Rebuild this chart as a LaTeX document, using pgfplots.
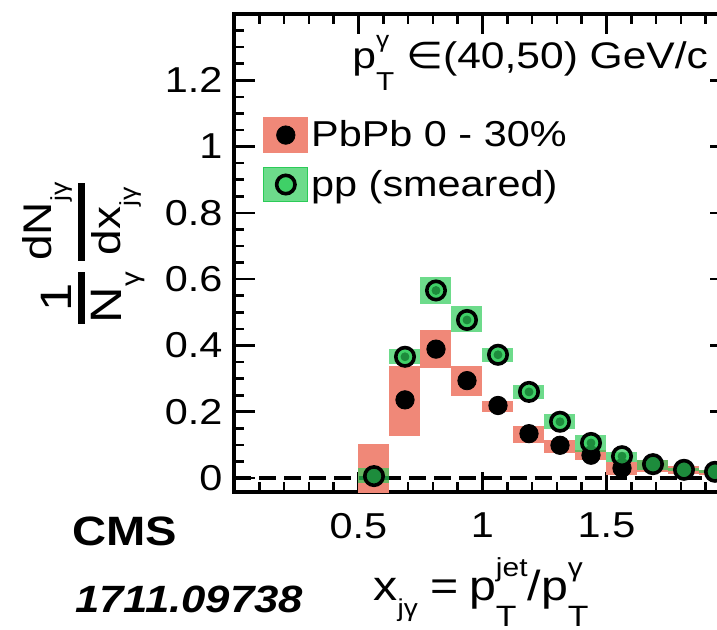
\documentclass[border=0pt]{standalone}
\usepackage{amsmath}
\usepackage{graphicx}
\usepackage{fontspec}
\setmainfont{Liberation Sans}[FakeStretch=1.15]
\newfontfamily\dejavu{DejaVu Sans}[FakeStretch=1.15]
\usepackage{pgfplots}
\usepackage{pgfplotstable}
\pgfplotsset{compat=1.18}
\definecolor{pbred}{RGB}{240,136,120}
\definecolor{ppgreen}{RGB}{43,203,87}
\newcommand{\Sub}[1]{\raisebox{-0.62em}{\scalebox{0.7}{#1}}}
\newcommand{\Sup}[1]{\raisebox{0.55em}{\scalebox{0.62}{#1}}}
\newcommand{\SubS}[1]{\raisebox{-0.4em}{\scalebox{0.58}{#1}}}

\pgfplotstableread{
x y lo hi
0.5625 0.005 -0.09 0.103
0.6875 0.236 0.128 0.338
0.8125 0.389 0.331 0.447
0.9375 0.294 0.249 0.338
1.0625 0.219 0.200 0.233
1.1875 0.134 0.107 0.157
1.3125 0.099 0.076 0.115
1.4375 0.069 0.054 0.085
1.5625 0.030 0.009 0.048
1.6875 0.040 0.018 0.056
1.8125 0.025 0.012 0.035
1.9375 0.018 0.009 0.025
}\pbpb

\pgfplotstableread{
x y lo hi
0.5625 0.006 -0.014 0.031
0.6875 0.366 0.343 0.389
0.8125 0.566 0.525 0.606
0.9375 0.477 0.440 0.520
1.0625 0.372 0.351 0.392
1.1875 0.260 0.238 0.281
1.3125 0.170 0.147 0.193
1.4375 0.106 0.079 0.130
1.5625 0.066 0.048 0.079
1.6875 0.042 0.024 0.056
1.8125 0.025 0.021 0.031
1.9375 0.019 0.014 0.024
}\pp

\begin{document}
\begin{tikzpicture}
\useasboundingbox (-117.25pt,-68.5pt) rectangle (241.25pt,246pt);
\begin{axis}[
  at={(0,0)}, anchor=south west,
  scale only axis, width=248pt, height=239pt,
  xmin=0, xmax=2, ymin=-0.042, ymax=1.4,
  axis line style={line width=2pt},
  xtick={0.5,1,1.5}, ytick={0,0.2,0.4,0.6,0.8,1,1.2},
  minor xtick={0.1,0.2,0.3,0.4,0.6,0.7,0.8,0.9,1.1,1.2,1.3,1.4,1.6,1.7,1.8,1.9},
  minor ytick={0.05,0.1,0.15,0.25,0.3,0.35,0.45,0.5,0.55,0.65,0.7,0.75,0.85,0.9,0.95,1.05,1.1,1.15,1.25,1.3,1.35},
  tick align=inside,
  xtick pos=both, ytick pos=both,
  major tick length=10pt, minor tick length=5pt,
  every tick/.style={black, line width=1.3pt},
  ticklabel style={font=\fontsize{18}{18}\selectfont},
  xticklabel style={yshift=-7pt},
  yticklabel style={xshift=-2.5pt},
  /pgf/number format/assume math mode=true,
  xlabel={x\SubS{jγ}\hspace{0.3em}=\hspace{0.25em}p\rlap{\Sub{T}}\Sup{jet}/p\rlap{\Sup{γ}}\Sub{T}},
  xlabel style={at={(axis description cs:0.497,-0.226)}, anchor=base, font=\fontsize{21}{21}\selectfont, inner sep=0pt},
  ylabel={\fontsize{22}{22}\selectfont$\genfrac{}{}{3.2pt}{}{\mbox{1}}{\mbox{N\SubS{γ}}}\,\genfrac{}{}{3.2pt}{}{\mbox{\fontsize{20}{20}\selectfont dN\SubS{jγ}}}{\mbox{\fontsize{20}{20}\selectfont dx\SubS{jγ}}}$},
  ylabel style={at={(axis description cs:-0.305,0.5)}, anchor=center, inner sep=0pt},
  legend style={at={(axis description cs:0.0575,0.785)}, anchor=north west, draw=none, fill=none,
     font=\fontsize{18}{18}\selectfont, row sep=7pt, inner sep=0pt,
     nodes={inner sep=1.5pt}},
  legend cell align=left,
]
% red boxes (PbPb systematics)
\addplot[only marks, mark=none, forget plot,
  error bars/.cd, y dir=both, y explicit, error mark=none,
  error bar style={line width=15.5pt, draw=pbred, line cap=butt}]
  table[x=x, y=y, y error plus expr=\thisrow{hi}-\thisrow{y}, y error minus expr=\thisrow{y}-\thisrow{lo}] {\pbpb};
% dashed line
\addplot[black, line width=1.6pt, dash pattern=on 8.5pt off 4pt, forget plot] coordinates {(0,0) (2,0)};
% PbPb markers
\addplot[only marks, mark=*, mark size=4.6pt, black,
  legend image code/.code={\fill[pbred] (0pt,-8.75pt) rectangle (22pt,8.75pt); \fill[black] (11pt,0pt) circle (4.6pt);}]
  table[x=x, y=y] {\pbpb};
\addlegendentry{PbPb 0 - 30\%}
% green boxes (pp systematics)
\addplot[only marks, mark=none, forget plot,
  error bars/.cd, y dir=both, y explicit, error mark=none,
  error bar style={line width=15.5pt, draw=ppgreen, draw opacity=0.69, line cap=butt}]
  table[x=x, y=y, y error plus expr=\thisrow{hi}-\thisrow{y}, y error minus expr=\thisrow{y}-\thisrow{lo}] {\pp};
% pp markers
\addplot[only marks, mark=*, mark size=4.6pt,
  mark options={draw=black, line width=1.8pt, fill=ppgreen, fill opacity=0.69},
  legend image code/.code={\fill[ppgreen, fill opacity=0.69] (0pt,-8.5pt) rectangle (22pt,8.5pt); \draw[black, line width=1.8pt, fill=ppgreen, fill opacity=0.69] (11pt,0pt) circle (4.6pt);}]
  table[x=x, y=y] {\pp};
\addlegendentry{pp (smeared)}
\end{axis}
\node[anchor=base west, font=\fontsize{18.5}{18.5}\selectfont, inner sep=0pt] at (58.75pt,212pt)
  {p\rlap{\Sup{γ}}\Sub{T} {\dejavu ∈}(40,50) GeV/c};
\node[anchor=base west, font=\fontsize{20.5}{20.5}\selectfont\bfseries, inner sep=0pt] at (-81.25pt,-26.5pt) {CMS};
\node[anchor=base west, font=\fontsize{19}{19}\selectfont\bfseries\itshape, inner sep=0pt] at (-79.75pt,-60pt) {1711.09738};
\end{tikzpicture}
\end{document}
